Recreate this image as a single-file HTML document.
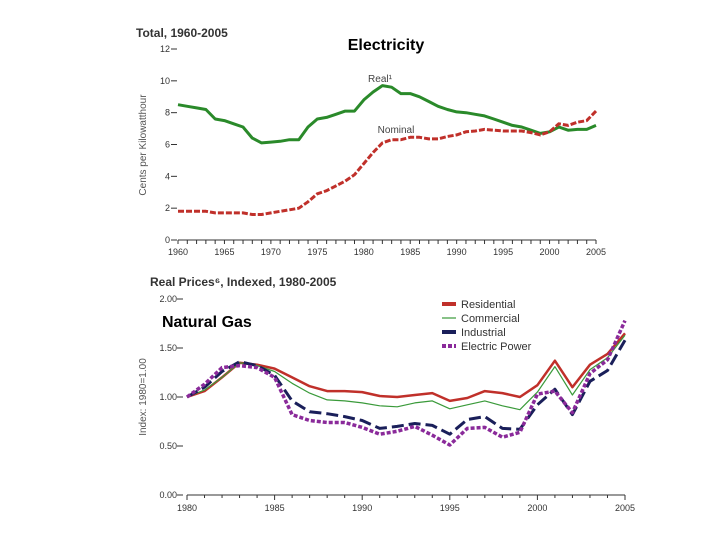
<!DOCTYPE html>
<html><head><meta charset="utf-8"><style>
body{margin:0;background:#fff;width:720px;height:540px;overflow:hidden;font-family:"Liberation Sans",sans-serif}
svg text{font-family:"Liberation Sans",sans-serif}
</style></head><body>
<svg id="s" width="720" height="540">
<text x="136" y="37" font-size="12" font-weight="bold" fill="#333">Total, 1960-2005</text>
<text x="386" y="50" font-size="16" font-weight="bold" text-anchor="middle">Electricity</text>
<text x="150" y="286" font-size="12" font-weight="bold" fill="#333">Real Prices⁶, Indexed, 1980-2005</text>
<text x="162" y="327" font-size="16" font-weight="bold">Natural Gas</text>
<text x="146" y="145" font-size="10" fill="#555" text-anchor="middle" transform="rotate(-90 146 145)">Cents per Kilowatthour</text>
<text x="146" y="397" font-size="10" fill="#555" text-anchor="middle" transform="rotate(-90 146 397)">Index: 1980=1.00</text>
<text x="380" y="82" font-size="10" fill="#444" text-anchor="middle">Real¹</text>
<text x="396" y="133" font-size="10" fill="#444" text-anchor="middle">Nominal</text>
<g>
<line x1="442" y1="304" x2="456" y2="304" stroke="#c0302a" stroke-width="4"/><text x="461" y="308" font-size="11" fill="#333">Residential</text>
<line x1="442" y1="318" x2="456" y2="318" stroke="#3a9a3a" stroke-width="1.2"/><text x="461" y="322" font-size="11" fill="#333">Commercial</text>
<line x1="442" y1="332" x2="456" y2="332" stroke="#1a1f5a" stroke-width="4"/><text x="461" y="336" font-size="11" fill="#333">Industrial</text>
<line x1="442" y1="346" x2="456" y2="346" stroke="#8a2a9a" stroke-width="4" stroke-dasharray="4 2"/><text x="461" y="350" font-size="11" fill="#333">Electric Power</text>
</g>
</svg>
<script>
const topYears=[];for(let y=1960;y<=2005;y++)topYears.push(y);
const realVals=[8.5,8.4,8.3,8.2,7.6,7.5,7.3,7.1,6.4,6.1,6.15,6.2,6.3,6.3,7.1,7.6,7.7,7.9,8.1,8.1,8.8,9.3,9.7,9.6,9.2,9.2,9.0,8.7,8.4,8.2,8.05,8.0,7.9,7.8,7.6,7.4,7.2,7.1,6.9,6.7,6.8,7.1,6.9,6.95,6.95,7.2];
const nominalVals=[1.8,1.8,1.8,1.8,1.7,1.7,1.7,1.7,1.6,1.6,1.7,1.8,1.9,2.0,2.4,2.9,3.1,3.4,3.7,4.1,4.8,5.5,6.1,6.3,6.3,6.45,6.45,6.35,6.35,6.5,6.6,6.8,6.85,6.95,6.9,6.85,6.85,6.85,6.75,6.6,6.8,7.3,7.2,7.4,7.5,8.1];
const topYTicks=[0,2,4,6,8,10,12];
const topXTicks=[1960,1965,1970,1975,1980,1985,1990,1995,2000,2005];
const botYears=[];for(let y=1980;y<=2005;y++)botYears.push(y);
const residential=[1.0,1.06,1.2,1.35,1.33,1.29,1.2,1.11,1.06,1.06,1.05,1.01,1.0,1.02,1.04,0.96,0.99,1.06,1.04,1.0,1.12,1.37,1.1,1.33,1.44,1.65];
const commercial=[1.0,1.07,1.2,1.35,1.32,1.26,1.14,1.04,0.97,0.96,0.94,0.91,0.90,0.94,0.96,0.88,0.92,0.96,0.91,0.87,1.05,1.31,1.02,1.28,1.4,1.63];
const industrial=[1.0,1.1,1.26,1.36,1.32,1.22,0.96,0.85,0.83,0.80,0.76,0.68,0.70,0.73,0.71,0.62,0.77,0.80,0.68,0.67,0.92,1.08,0.82,1.16,1.27,1.58];
const electricPower=[1.0,1.13,1.3,1.32,1.3,1.2,0.82,0.76,0.74,0.74,0.69,0.62,0.65,0.70,0.61,0.51,0.68,0.69,0.59,0.64,1.03,1.06,0.84,1.24,1.38,1.78];
const botYTicks=[0,0.5,1.0,1.5,2.0];
const botXTicks=[1980,1985,1990,1995,2000,2005];

const S=document.getElementById('s'),NS='http://www.w3.org/2000/svg';
function mk(t,a,txt){const e=document.createElementNS(NS,t);for(const k in a)e.setAttribute(k,a[k]);if(txt!==undefined)e.textContent=txt;S.appendChild(e);return e;}
const tx=y=>178+(y-1960)*(596-178)/45, ty=v=>240-v*(240-49)/12;
const bx=y=>187+(y-1980)*(625-187)/25, by=v=>495-v*(495-299)/2;

// top axes
let ax=mk('line',{x1:tx(1960),y1:240,x2:tx(2005),y2:240,stroke:'#333','stroke-width':1});

topYears.forEach(y=>{mk('line',{x1:tx(y),y1:240,x2:tx(y),y2:244,stroke:'#333'});});
topXTicks.forEach(y=>{const t=mk('text',{x:tx(y),y:255,'font-size':9,'text-anchor':'middle',fill:'#333'},y);
});
topYTicks.forEach(v=>{const t=mk('text',{x:170,y:ty(v)+3,'font-size':9,'text-anchor':'end',fill:'#333'},v);

mk('line',{x1:171,y1:ty(v),x2:177,y2:ty(v),stroke:'#333'});});
function path(xs,vals,fx,fy,attrs,name){const d=vals.map((v,i)=>(i?'L':'M')+fx(xs[i]).toFixed(1)+' '+fy(v).toFixed(1)).join(' ');
const p=mk('path',Object.assign({d:d,fill:'none','stroke-linejoin':'round'},attrs));
}
path(topYears,realVals,tx,ty,{stroke:'#2a8a2a','stroke-width':3},'real-line');
path(topYears,nominalVals,tx,ty,{stroke:'#c0302a','stroke-width':3,'stroke-dasharray':'6 2'},'nominal-line');

// bottom axes
ax=mk('line',{x1:bx(1980),y1:495,x2:bx(2005),y2:495,stroke:'#333'});

botYears.forEach(y=>{mk('line',{x1:bx(y),y1:495,x2:bx(y),y2:(y%5?498:500),stroke:'#333'});});
botXTicks.forEach(y=>{const t=mk('text',{x:bx(y),y:511,'font-size':9,'text-anchor':'middle',fill:'#333'},y);
});
botYTicks.forEach(v=>{const t=mk('text',{x:177,y:by(v)+3,'font-size':9,'text-anchor':'end',fill:'#333'},v.toFixed(2));

mk('line',{x1:177,y1:by(v),x2:183,y2:by(v),stroke:'#333'});});
path(botYears,residential,bx,by,{stroke:'#c0302a','stroke-width':2.5},'residential-line');
path(botYears,commercial,bx,by,{stroke:'#3a9a3a','stroke-width':1.2},'commercial-line');
path(botYears,industrial,bx,by,{stroke:'#1a1f5a','stroke-width':3,'stroke-dasharray':'12 5'},'industrial-line');
path(botYears,electricPower,bx,by,{stroke:'#8a2a9a','stroke-width':3.5,'stroke-dasharray':'4 2'},'electric-power-line');
</script>
</body></html>
